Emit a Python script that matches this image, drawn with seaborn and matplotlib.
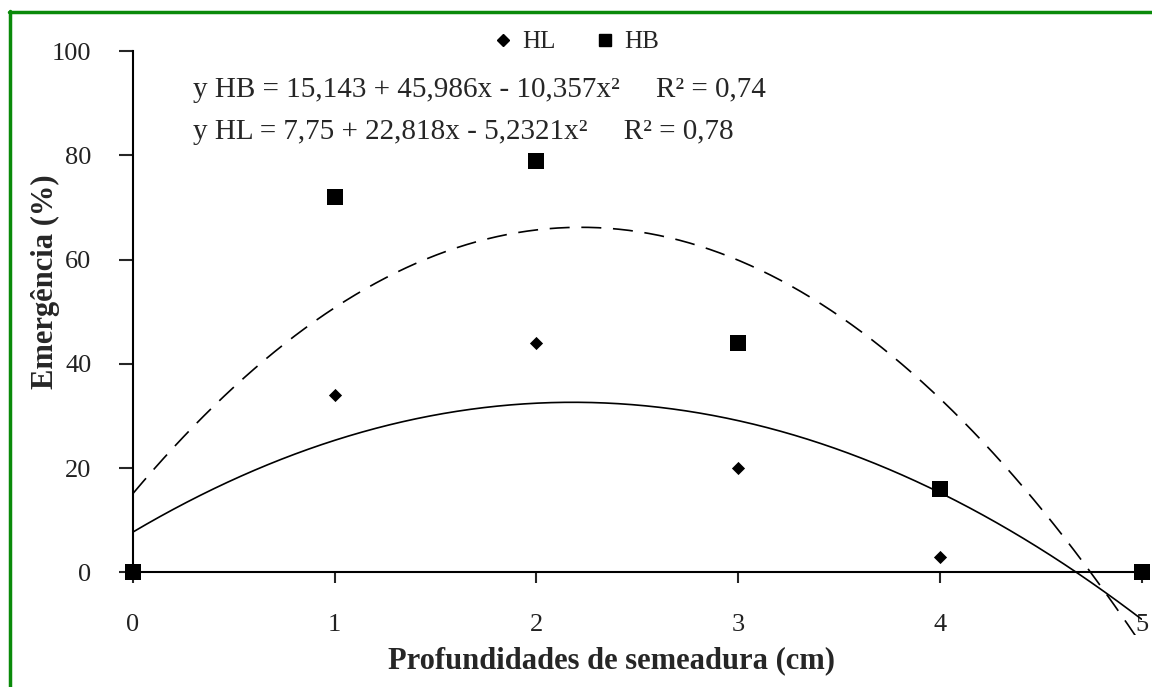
import matplotlib.pyplot as plt
import numpy as np
import pandas as pd
import seaborn as sns
from matplotlib.lines import Line2D

# ==== Data ==== #
depth = [0, 1, 2, 3, 4, 5]
hl_values = [0, 34, 44, 20, 3, 0]
hb_values = [0, 72, 79, 44, 16, 0]

# regression coefficients printed on the chart (a + b*x + c*x^2)
hb_coef = [15.143, 45.986, -10.357]
hl_coef = [7.75, 22.818, -5.2321]

eq_hb = "y HB = 15,143 + 45,986x - 10,357x²     R² = 0,74"
eq_hl = "y HL = 7,75 + 22,818x - 5,2321x²     R² = 0,78"

# ==== Build frames ==== #
points = pd.DataFrame({
    "x": depth * 2,
    "y": hl_values + hb_values,
    "serie": ["HL"] * len(depth) + ["HB"] * len(depth),
})

xs = np.linspace(0, 5, 300)
curves = pd.DataFrame({
    "x": np.concatenate([xs, xs]),
    "y": np.concatenate([np.polyval(hl_coef[::-1], xs), np.polyval(hb_coef[::-1], xs)]),
    "serie": ["HL"] * len(xs) + ["HB"] * len(xs),
})

# ==== Plot ==== #
sns.set_theme(style="white")
plt.rcParams["font.family"] = ["Liberation Serif", "DejaVu Serif"]

fig = plt.figure(figsize=(11.52, 6.87), dpi=100)
ax = fig.add_axes([133 / 1152, 52 / 687, (1141.5 - 133) / 1152, (635 - 51) / 687])

sns.lineplot(data=curves[curves.serie == "HL"], x="x", y="y", color="black",
             lw=1.2, ax=ax, legend=False)
sns.lineplot(data=curves[curves.serie == "HB"], x="x", y="y", color="black",
             lw=1.2, ax=ax, legend=False, dashes=False, linestyle=(0, (12, 7)))

sns.scatterplot(data=points[points.serie == "HL"], x="x", y="y", marker="D",
                s=45, color="black", linewidth=0, ax=ax, clip_on=False, zorder=5)
sns.scatterplot(data=points[points.serie == "HB"], x="x", y="y", marker="s",
                s=120, color="black", linewidth=0, ax=ax, clip_on=False, zorder=6)

ax.set_xlim(0, 5)
ax.set_ylim(-12, 100)
ax.spines["bottom"].set_position(("data", 0))
ax.spines["left"].set_bounds(0, 100)
ax.spines["top"].set_visible(False)
ax.spines["right"].set_visible(False)
for s in ["bottom", "left"]:
    ax.spines[s].set_linewidth(1.5)
    ax.spines[s].set_color("black")

ax.set_xticks(depth)
ax.set_yticks([0, 20, 40, 60, 80, 100])
ax.tick_params(axis="x", direction="out", length=8, width=1.5, pad=22,
               labelsize=19, bottom=True)
ax.tick_params(axis="y", direction="out", length=10, width=1.5, pad=20,
               labelsize=19, left=True)
for lab in ax.get_xticklabels() + ax.get_yticklabels():
    lab.set_color("#222222")

ax.set_xlabel("")
ax.set_ylabel("")
fig.text(611 / 1152, 1 - 661 / 687, "Profundidades de semeadura (cm)",
         ha="center", va="center", fontsize=22, fontweight="bold")
fig.text(45 / 1152, 1 - 282 / 687, "Emergência (%)", rotation=90,
         ha="center", va="center", fontsize=22, fontweight="bold")

# equations
fig.text(193 / 1152, 1 - 97 / 687, eq_hb, fontsize=21, va="baseline")
fig.text(193 / 1152, 1 - 139 / 687, eq_hl, fontsize=21, va="baseline")

# legend
handles = [
    Line2D([], [], marker="D", color="black", linestyle="none", markersize=6),
    Line2D([], [], marker="s", color="black", linestyle="none", markersize=8),
]
fig.legend(handles, ["HL", "HB"], ncol=2, frameon=False, fontsize=18,
           loc="center", bbox_to_anchor=(576 / 1152, 1 - 42 / 687),
           handletextpad=0.35, columnspacing=1.6, handlelength=0.8)

# green frame (top and left only)
green = "#0a8a0a"
fig.add_artist(Line2D([9 / 1152, 1], [1 - 12 / 687] * 2, color=green, lw=2.5,
                      transform=fig.transFigure))
fig.add_artist(Line2D([10 / 1152] * 2, [0, 1 - 11 / 687], color=green, lw=2.5,
                      transform=fig.transFigure))

plt.savefig("out.png", dpi=100, facecolor="white")
plt.close()
